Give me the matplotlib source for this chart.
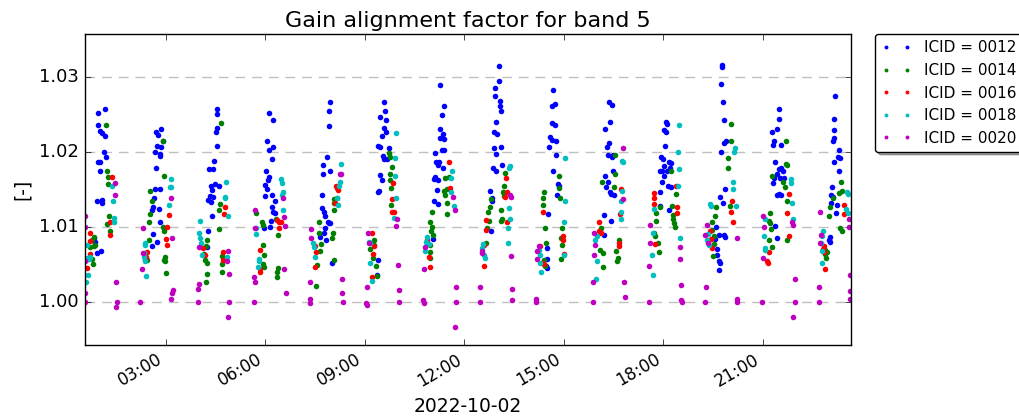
import numpy as np
import pandas as pd
import matplotlib
matplotlib.use('Agg')
import matplotlib.pyplot as plt
import matplotlib.dates as mdates

# (hour of day, gain alignment factor) per ICID
gain_0012 = [
    (1.18, 1.0257), (0.96, 1.0252), (0.96, 1.0236), (1.03, 1.0228), (1.08, 1.0225), (1.18, 1.0221),
    (1.13, 1.0200), (1.21, 1.0193), (0.95, 1.0187), (1.01, 1.0187), (1.01, 1.0175), (0.93, 1.0135),
    (1.08, 1.0136), (1.08, 1.0132), (0.83, 1.0085), (0.88, 1.0080), (0.93, 1.0065), (1.06, 1.0068),
    (2.87, 1.0230), (2.71, 1.0226), (2.76, 1.0223), (2.92, 1.0215), (2.74, 1.0208), (2.86, 1.0206),
    (2.67, 1.0200), (2.84, 1.0197), (2.82, 1.0195), (2.71, 1.0178), (2.67, 1.0150), (2.84, 1.0150),
    (2.64, 1.0138), (2.62, 1.0127), (2.59, 1.0122), (2.79, 1.0124), (2.82, 1.0106), (2.62, 1.0091),
    (2.74, 1.0080), (2.59, 1.0075),
    (4.54, 1.0257), (4.54, 1.0251), (4.56, 1.0232), (4.51, 1.0227), (4.54, 1.0208), (4.47, 1.0188),
    (4.31, 1.0177), (4.44, 1.0177), (4.49, 1.0157), (4.36, 1.0154), (4.39, 1.0149), (4.62, 1.0155),
    (4.34, 1.0141), (4.44, 1.0140), (4.29, 1.0136), (4.36, 1.0133), (4.39, 1.0114), (4.29, 1.0095),
    (4.24, 1.0073),
    (6.10, 1.0252), (6.25, 1.0242), (6.05, 1.0215), (6.10, 1.0203), (6.25, 1.0206), (6.22, 1.0190),
    (6.03, 1.0175), (6.13, 1.0166), (6.07, 1.0162), (6.00, 1.0156), (6.05, 1.0150), (6.20, 1.0143),
    (5.98, 1.0141), (6.30, 1.0134), (6.20, 1.0127), (6.25, 1.0120), (6.29, 1.0119), (6.17, 1.0108),
    (5.97, 1.0098), (6.15, 1.0100),
    (7.96, 1.0266), (7.93, 1.0254), (7.93, 1.0235), (7.86, 1.0193), (7.74, 1.0183), (7.96, 1.0175),
    (7.74, 1.0171), (7.71, 1.0143), (7.71, 1.0125), (7.78, 1.0120), (7.81, 1.0115), (7.88, 1.0107),
    (7.96, 1.0105), (7.91, 1.0105), (7.81, 1.0098), (7.76, 1.0092), (7.66, 1.0086), (7.84, 1.0082),
    (8.01, 1.0052),
    (9.57, 1.0266), (9.62, 1.0255), (9.47, 1.0246), (9.65, 1.0242), (9.57, 1.0232), (9.65, 1.0227),
    (9.52, 1.0221), (9.39, 1.0208), (9.47, 1.0206), (9.72, 1.0205), (9.55, 1.0195), (9.57, 1.0190),
    (9.67, 1.0191), (9.45, 1.0169), (9.52, 1.0163), (9.42, 1.0148), (9.40, 1.0146), (9.39, 1.0056),
    (9.37, 1.0036),
    (11.28, 1.0289), (11.40, 1.0261), (11.33, 1.0249), (11.26, 1.0230), (11.36, 1.0224), (11.26, 1.0218),
    (11.40, 1.0217), (11.33, 1.0203), (11.13, 1.0199), (11.40, 1.0203), (11.16, 1.0187), (11.23, 1.0187),
    (11.20, 1.0183), (11.36, 1.0178), (11.13, 1.0166), (11.20, 1.0163), (11.08, 1.0164), (11.18, 1.0149),
    (11.10, 1.0135), (11.20, 1.0131), (11.06, 1.0084),
    (13.04, 1.0315), (13.04, 1.0295), (12.94, 1.0285), (12.94, 1.0275), (13.07, 1.0268), (13.07, 1.0261),
    (13.11, 1.0254), (12.97, 1.0240), (12.91, 1.0227), (12.99, 1.0224), (12.89, 1.0205), (13.11, 1.0206),
    (12.97, 1.0197), (13.14, 1.0183), (12.87, 1.0178), (12.97, 1.0174), (12.79, 1.0148), (12.84, 1.0138),
    (12.84, 1.0135), (12.81, 1.0095),
    (14.67, 1.0282), (14.74, 1.0264), (14.64, 1.0261), (14.64, 1.0238), (14.74, 1.0236), (14.59, 1.0220),
    (14.64, 1.0216), (14.77, 1.0214), (14.57, 1.0206), (14.77, 1.0196), (14.67, 1.0174), (14.82, 1.0157),
    (14.85, 1.0154), (14.80, 1.0143), (14.54, 1.0117), (14.49, 1.0072), (14.49, 1.0057), (14.51, 1.0045),
    (14.47, 1.0048),
    (16.35, 1.0267), (16.45, 1.0263), (16.38, 1.0240), (16.25, 1.0230), (16.35, 1.0212), (16.30, 1.0206),
    (16.32, 1.0196), (16.45, 1.0193), (16.50, 1.0196), (16.48, 1.0175), (16.25, 1.0168), (16.32, 1.0160),
    (16.28, 1.0153), (16.38, 1.0146), (16.42, 1.0144), (16.52, 1.0143), (16.20, 1.0116), (16.42, 1.0108),
    (16.22, 1.0089),
    (18.09, 1.0240), (18.11, 1.0237), (18.03, 1.0229), (18.09, 1.0226), (18.06, 1.0208), (17.93, 1.0193),
    (17.99, 1.0190), (18.17, 1.0187), (18.22, 1.0185), (18.03, 1.0181), (17.89, 1.0175), (17.96, 1.0174),
    (18.11, 1.0175), (18.19, 1.0179), (18.01, 1.0168), (17.96, 1.0160), (18.14, 1.0154), (18.22, 1.0153),
    (17.89, 1.0146), (17.91, 1.0128), (18.17, 1.0122),
    (19.77, 1.0316), (19.77, 1.0313), (19.74, 1.0291), (19.80, 1.0267), (19.84, 1.0243), (19.90, 1.0215),
    (19.84, 1.0212), (19.74, 1.0200), (19.87, 1.0150), (19.70, 1.0140), (19.80, 1.0132), (19.60, 1.0100),
    (19.67, 1.0089), (19.84, 1.0089), (19.57, 1.0084), (19.87, 1.0086), (19.62, 1.0070), (19.62, 1.0063),
    (19.67, 1.0055), (19.70, 1.0052), (19.67, 1.0042),
    (21.49, 1.0257), (21.49, 1.0244), (21.28, 1.0227), (21.43, 1.0230), (21.35, 1.0215), (21.31, 1.0209),
    (21.56, 1.0209), (21.38, 1.0187), (21.49, 1.0177), (21.56, 1.0178), (21.62, 1.0174), (21.43, 1.0171),
    (21.35, 1.0165), (21.31, 1.0159), (21.53, 1.0165), (21.63, 1.0165), (21.42, 1.0143), (21.49, 1.0144),
    (21.56, 1.0143), (21.38, 1.0101), (21.42, 1.0085),
    (23.19, 1.0275), (23.16, 1.0244), (23.14, 1.0229), (23.16, 1.0218), (23.12, 1.0215), (23.29, 1.0202),
    (23.26, 1.0193), (23.34, 1.0192), (23.14, 1.0186), (23.29, 1.0174), (23.09, 1.0153), (23.06, 1.0143),
    (23.12, 1.0140), (23.06, 1.0132), (23.24, 1.0129), (23.22, 1.0118), (23.02, 1.0087), (23.02, 1.0080),
    (22.99, 1.0083),
]

gain_0014 = [
    (1.20, 1.0236), (1.23, 1.0175), (1.26, 1.0167), (1.26, 1.0157), (1.30, 1.0114), (1.23, 1.0104),
    (1.31, 1.0095), (0.83, 1.0087), (0.78, 1.0083), (0.88, 1.0076), (0.73, 1.0073), (0.85, 1.0074),
    (0.78, 1.0057), (0.81, 1.0051),
    (2.92, 1.0215), (2.94, 1.0168), (2.54, 1.0148), (2.59, 1.0135), (2.54, 1.0117), (2.51, 1.0107),
    (2.92, 1.0100), (2.94, 1.0094), (2.49, 1.0083), (2.97, 1.0060), (2.99, 1.0054), (3.01, 1.0039),
    (2.44, 1.0056), (2.94, 1.0056),
    (4.66, 1.0239), (4.64, 1.0131), (4.62, 1.0123), (4.62, 1.0097), (4.26, 1.0082), (4.22, 1.0074),
    (4.16, 1.0064), (4.19, 1.0056), (4.24, 1.0052), (4.69, 1.0061), (4.69, 1.0051), (4.69, 1.0040),
    (4.24, 1.0037), (4.22, 1.0027),
    (5.90, 1.0106), (5.93, 1.0102), (6.33, 1.0110), (6.40, 1.0089), (5.93, 1.0076), (5.97, 1.0063),
    (5.93, 1.0051), (5.95, 1.0047), (6.38, 1.0045), (6.35, 1.0040), (6.35, 1.0033), (5.72, 1.0118),
    (7.61, 1.0106), (7.61, 1.0092), (7.68, 1.0077), (7.64, 1.0068), (7.56, 1.0049), (7.54, 1.0021),
    (8.06, 1.0132), (8.08, 1.0122), (8.04, 1.0092), (8.01, 1.0085), (8.06, 1.0056), (8.16, 1.0138),
    (8.08, 1.0137),
    (9.72, 1.0198), (9.75, 1.0193), (9.82, 1.0180), (9.75, 1.0171), (9.75, 1.0162), (9.79, 1.0152),
    (9.79, 1.0129), (9.27, 1.0083), (9.29, 1.0076), (9.17, 1.0070), (9.35, 1.0048), (9.37, 1.0035),
    (9.25, 1.0058),
    (11.03, 1.0120), (10.96, 1.0106), (11.03, 1.0100), (11.00, 1.0095), (11.06, 1.0089), (10.98, 1.0076),
    (10.98, 1.0066), (10.96, 1.0058), (11.43, 1.0165), (11.54, 1.0167), (11.48, 1.0150), (11.43, 1.0143),
    (11.48, 1.0132), (11.48, 1.0117), (11.40, 1.0148),
    (13.24, 1.0172), (13.21, 1.0155), (13.17, 1.0146), (13.19, 1.0141), (12.81, 1.0137), (12.77, 1.0126),
    (12.71, 1.0120), (13.11, 1.0122), (13.14, 1.0110), (12.74, 1.0108), (12.69, 1.0098), (13.11, 1.0108),
    (12.67, 1.0079),
    (14.39, 1.0147), (14.37, 1.0138), (14.37, 1.0129), (14.85, 1.0168), (14.85, 1.0152), (14.88, 1.0138),
    (14.44, 1.0098), (14.47, 1.0079), (14.95, 1.0098), (14.92, 1.0085), (14.95, 1.0076), (14.92, 1.0057),
    (14.41, 1.0056), (14.44, 1.0048),
    (16.55, 1.0196), (16.55, 1.0171), (16.15, 1.0160), (16.52, 1.0153), (16.12, 1.0098), (16.08, 1.0094),
    (16.08, 1.0069), (16.18, 1.0065), (16.18, 1.0046), (16.58, 1.0068), (16.63, 1.0058), (16.60, 1.0054),
    (16.66, 1.0083),
    (18.22, 1.0174), (18.37, 1.0144), (17.79, 1.0118), (17.79, 1.0108), (17.91, 1.0127), (18.30, 1.0116),
    (18.30, 1.0110), (18.32, 1.0105), (18.34, 1.0100), (17.71, 1.0092), (17.76, 1.0088), (17.83, 1.0079),
    (17.86, 1.0067), (18.27, 1.0128),
    (20.03, 1.0237), (20.05, 1.0214), (19.95, 1.0192), (19.95, 1.0178), (20.00, 1.0128), (19.60, 1.0126),
    (19.57, 1.0114), (19.47, 1.0107), (19.47, 1.0096), (19.52, 1.0088), (19.52, 1.0077), (19.50, 1.0061),
    (21.69, 1.0215), (21.69, 1.0184), (21.72, 1.0182), (21.28, 1.0168), (21.62, 1.0160), (21.66, 1.0153),
    (21.74, 1.0135), (21.21, 1.0119), (21.18, 1.0108), (21.23, 1.0105), (21.25, 1.0097), (21.18, 1.0083),
    (21.28, 1.0073), (21.72, 1.0083),
    (23.36, 1.0160), (23.39, 1.0148), (23.12, 1.0138), (23.02, 1.0126), (22.99, 1.0115), (23.29, 1.0145),
    (23.32, 1.0098), (23.39, 1.0094), (22.89, 1.0069), (22.94, 1.0066), (22.92, 1.0058), (22.89, 1.0064),
]

gain_0016 = [
    (1.38, 1.0166), (1.33, 1.0106), (1.33, 1.0089), (0.71, 1.0092), (0.71, 1.0081), (0.73, 1.0064),
    (0.65, 1.0057), (0.63, 1.0045),
    (3.09, 1.0116), (3.04, 1.0100), (3.01, 1.0084), (3.04, 1.0076), (2.44, 1.0066), (2.41, 1.0060),
    (2.39, 1.0056),
    (4.79, 1.0127), (4.76, 1.0117), (4.12, 1.0072), (4.19, 1.0063), (4.74, 1.0067), (4.72, 1.0056),
    (6.43, 1.0107), (6.47, 1.0106), (6.43, 1.0098), (5.83, 1.0069), (5.85, 1.0044), (5.83, 1.0040),
    (6.35, 1.0109),
    (8.16, 1.0152), (8.18, 1.0149), (8.14, 1.0155), (8.11, 1.0132), (7.51, 1.0074), (7.54, 1.0066),
    (7.51, 1.0046),
    (9.85, 1.0159), (9.82, 1.0137), (9.82, 1.0120), (9.89, 1.0120), (9.22, 1.0092), (9.27, 1.0075),
    (9.25, 1.0064), (9.22, 1.0033),
    (11.54, 1.0187), (11.57, 1.0152), (10.93, 1.0060), (10.96, 1.0047), (10.88, 1.0083),
    (13.27, 1.0165), (13.29, 1.0147), (13.24, 1.0140), (13.29, 1.0106), (12.67, 1.0109), (12.67, 1.0096),
    (12.59, 1.0076), (12.61, 1.0048),
    (14.37, 1.0120), (14.98, 1.0088), (14.98, 1.0083), (15.02, 1.0064), (14.27, 1.0075), (14.34, 1.0052),
    (14.39, 1.0050),
    (16.72, 1.0150), (16.70, 1.0117), (16.06, 1.0107), (16.06, 1.0094), (16.12, 1.0092), (16.66, 1.0079),
    (16.66, 1.0075),
    (17.73, 1.0145), (17.73, 1.0138), (17.71, 1.0131), (18.37, 1.0155), (18.40, 1.0127), (18.40, 1.0119),
    (17.76, 1.0077),
    (20.08, 1.0134), (20.05, 1.0120), (20.10, 1.0107), (19.42, 1.0095), (19.44, 1.0084), (19.47, 1.0072),
    (21.79, 1.0144), (21.74, 1.0118), (21.79, 1.0088), (21.13, 1.0055), (21.15, 1.0052), (21.18, 1.0066),
    (23.45, 1.0129), (23.46, 1.0117), (22.89, 1.0044), (22.84, 1.0074), (22.86, 1.0066), (22.82, 1.0070),
]

gain_0018 = [
    (1.38, 1.0155), (1.41, 1.0134), (1.43, 1.0112), (1.43, 1.0106), (0.63, 1.0076), (0.63, 1.0058),
    (0.68, 1.0057), (0.65, 1.0036), (0.61, 1.0027), (0.71, 1.0060),
    (3.16, 1.0164), (3.12, 1.0153), (3.16, 1.0153), (3.09, 1.0129), (2.37, 1.0078), (2.39, 1.0076),
    (2.36, 1.0060), (2.39, 1.0054), (2.42, 1.0035), (2.34, 1.0065),
    (4.82, 1.0160), (4.79, 1.0140), (4.79, 1.0138), (4.87, 1.0115), (4.04, 1.0108), (4.01, 1.0092),
    (4.02, 1.0085), (4.06, 1.0078), (4.09, 1.0063), (4.85, 1.0060),
    (6.47, 1.0164), (6.50, 1.0159), (6.53, 1.0147), (6.50, 1.0143), (6.53, 1.0123), (5.72, 1.0098),
    (5.72, 1.0091), (5.80, 1.0057), (5.80, 1.0054), (5.77, 1.0047),
    (8.29, 1.0184), (8.25, 1.0160), (8.22, 1.0155), (8.16, 1.0138), (8.21, 1.0129), (7.44, 1.0078),
    (7.46, 1.0073), (7.51, 1.0060),
    (9.95, 1.0225), (9.92, 1.0192), (9.92, 1.0168), (9.95, 1.0138), (9.87, 1.0112), (9.15, 1.0079),
    (9.17, 1.0052), (9.22, 1.0028), (9.12, 1.0080),
    (11.64, 1.0174), (11.61, 1.0165), (11.59, 1.0147), (11.69, 1.0128), (10.88, 1.0087), (10.86, 1.0080),
    (10.93, 1.0077), (10.83, 1.0068),
    (13.37, 1.0181), (13.34, 1.0178), (13.34, 1.0125), (13.37, 1.0110), (13.31, 1.0098), (13.31, 1.0079),
    (12.57, 1.0077), (12.59, 1.0063), (12.64, 1.0058), (12.54, 1.0072),
    (15.05, 1.0192), (15.05, 1.0135), (15.02, 1.0107), (15.02, 1.0063), (14.24, 1.0069), (14.27, 1.0063),
    (14.31, 1.0040), (14.29, 1.0052),
    (16.76, 1.0188), (16.79, 1.0186), (16.76, 1.0148), (16.73, 1.0134), (16.73, 1.0120), (16.73, 1.0110),
    (15.95, 1.0083), (16.00, 1.0088), (16.00, 1.0055), (15.98, 1.0030),
    (18.47, 1.0236), (18.44, 1.0200), (18.47, 1.0177), (18.44, 1.0155), (17.73, 1.0124), (17.69, 1.0092),
    (17.66, 1.0063), (17.69, 1.0036), (18.50, 1.0085),
    (20.15, 1.0205), (20.13, 1.0200), (20.10, 1.0160), (20.10, 1.0150), (20.18, 1.0128), (19.40, 1.0131),
    (19.44, 1.0128), (19.34, 1.0091), (19.37, 1.0076), (19.32, 1.0083),
    (21.86, 1.0164), (21.84, 1.0159), (21.89, 1.0132), (21.92, 1.0110), (21.06, 1.0110), (21.03, 1.0088),
    (21.08, 1.0072), (21.06, 1.0069),
    (23.55, 1.0146), (23.57, 1.0144), (23.50, 1.0124), (23.57, 1.0119), (22.82, 1.0095), (22.79, 1.0088),
    (22.76, 1.0079), (22.79, 1.0068), (22.79, 1.0052),
]

gain_0020 = [
    (1.48, 1.0159), (1.48, 1.0143), (0.58, 1.0114), (0.58, 1.0100), (0.58, 1.0054), (0.58, 1.0012),
    (0.58, 1.0000), (1.50, 1.0027), (1.53, 1.0000), (1.50, 0.9993),
    (3.16, 1.0138), (3.19, 1.0085), (2.31, 1.0098), (2.31, 1.0065), (2.29, 1.0044), (2.24, 1.0000),
    (3.21, 1.0016), (3.19, 1.0012), (3.17, 1.0004),
    (3.99, 1.0073), (4.87, 1.0068), (4.85, 1.0055), (4.92, 1.0037), (3.99, 1.0024), (3.96, 1.0017),
    (3.96, 1.0000), (4.92, 1.0000), (4.89, 0.9980),
    (5.70, 1.0122), (6.55, 1.0138), (6.57, 1.0113), (6.60, 1.0101), (5.70, 1.0098), (5.65, 1.0033),
    (5.70, 1.0026), (5.65, 1.0000), (6.57, 1.0044), (6.63, 1.0012),
    (8.27, 1.0171), (8.29, 1.0170), (7.38, 1.0097), (7.38, 1.0085), (7.36, 1.0026), (7.34, 1.0004),
    (7.36, 0.9999), (8.32, 1.0030), (8.32, 1.0012), (8.35, 1.0000),
    (9.97, 1.0110), (9.95, 1.0101), (9.09, 1.0092), (9.12, 1.0079), (9.99, 1.0049), (10.02, 1.0016),
    (9.07, 1.0020), (9.05, 0.9999), (9.07, 0.9996), (10.02, 1.0000),
    (11.67, 1.0140), (11.71, 1.0123), (10.83, 1.0073), (10.80, 1.0044), (11.74, 1.0020), (10.76, 1.0002),
    (10.80, 0.9999), (11.74, 1.0000), (11.71, 0.9966),
    (13.39, 1.0143), (13.41, 1.0140), (13.41, 1.0061), (12.54, 1.0068), (12.54, 1.0065), (12.49, 1.0020),
    (13.44, 1.0017), (12.47, 1.0000), (13.44, 1.0002),
    (14.24, 1.0074), (14.19, 1.0068), (14.19, 1.0057), (14.17, 1.0004), (14.17, 1.0000),
    (16.79, 1.0205), (16.79, 1.0137), (15.90, 1.0092), (15.95, 1.0076), (15.90, 1.0063), (15.88, 1.0026),
    (16.83, 1.0026), (16.86, 1.0006), (15.88, 1.0000),
    (17.61, 1.0103), (17.61, 1.0079), (17.56, 1.0048), (18.50, 1.0073), (18.50, 1.0057), (18.54, 1.0023),
    (17.56, 1.0000), (18.54, 1.0002), (18.57, 1.0000),
    (19.32, 1.0103), (19.27, 1.0089), (19.34, 1.0078), (19.30, 1.0020), (19.27, 1.0000), (20.21, 1.0085),
    (20.23, 1.0004), (20.21, 1.0000),
    (21.01, 1.0115), (21.03, 1.0100), (21.89, 1.0107), (21.92, 1.0103), (21.01, 1.0058), (21.96, 1.0030),
    (20.98, 1.0000), (21.96, 1.0000), (21.92, 0.9980),
    (23.60, 1.0110), (23.60, 1.0100), (23.63, 1.0036), (23.63, 1.0015), (22.74, 1.0120), (22.76, 1.0089),
    (22.72, 1.0079), (22.69, 1.0020), (22.69, 1.0000), (23.64, 1.0004),
]

icids = ['0012', '0014', '0016', '0018', '0020']
series = [gain_0012, gain_0014, gain_0016, gain_0018, gain_0020]
colors = ['b', 'g', 'r', 'c', 'm']

day = pd.Timestamp('2022-10-02')
x_range = (0.558, 23.65)  # hours shown on the axis


def to_time(hours):
    return (day + pd.to_timedelta(np.asarray(hours), unit='h')).to_numpy()


plt.style.use('classic')
plt.rcParams['font.family'] = 'DejaVu Sans'

fig = plt.figure(figsize=(10.2, 4.16), dpi=100, facecolor='white')
ax = fig.add_axes([0.083, 0.171, 0.751, 0.747])

for icid, data, col in zip(icids, series, colors):
    hrs, vals = zip(*data)
    ax.plot(to_time(hrs), vals, 'o', color=col, ms=4.0, mew=0, label='ICID = ' + icid)

ax.set_xlim(to_time(x_range[0]), to_time(x_range[1]))
ax.set_ylim(0.99427, 1.0357)
ax.set_yticks([1.00, 1.01, 1.02, 1.03])
ax.yaxis.set_major_formatter(matplotlib.ticker.FormatStrFormatter('%.2f'))
ax.xaxis.set_major_locator(mdates.HourLocator(byhour=range(3, 24, 3)))
ax.xaxis.set_major_formatter(mdates.DateFormatter('%H:%M'))
ax.tick_params(axis='y', labelsize=13)
ax.tick_params(axis='x', labelsize=12)
for lab in ax.get_xticklabels():
    lab.set_rotation(30)
    lab.set_ha('right')

ax.yaxis.grid(True, linestyle=(0, (7, 5)), color='#c0c0c0', linewidth=1)
ax.set_axisbelow(True)

ax.set_title('Gain alignment factor for band 5', fontsize=16)
ax.set_xlabel('2022-10-02', fontsize=13.5)
ax.set_ylabel('[-]', fontsize=13.5)

ax.legend(loc='upper left', bbox_to_anchor=(1.032, 1.0), borderaxespad=0, numpoints=2,
          fancybox=True, shadow=True, fontsize=11, markerscale=0.7)

fig.savefig('out.png', dpi=100, facecolor='white')
